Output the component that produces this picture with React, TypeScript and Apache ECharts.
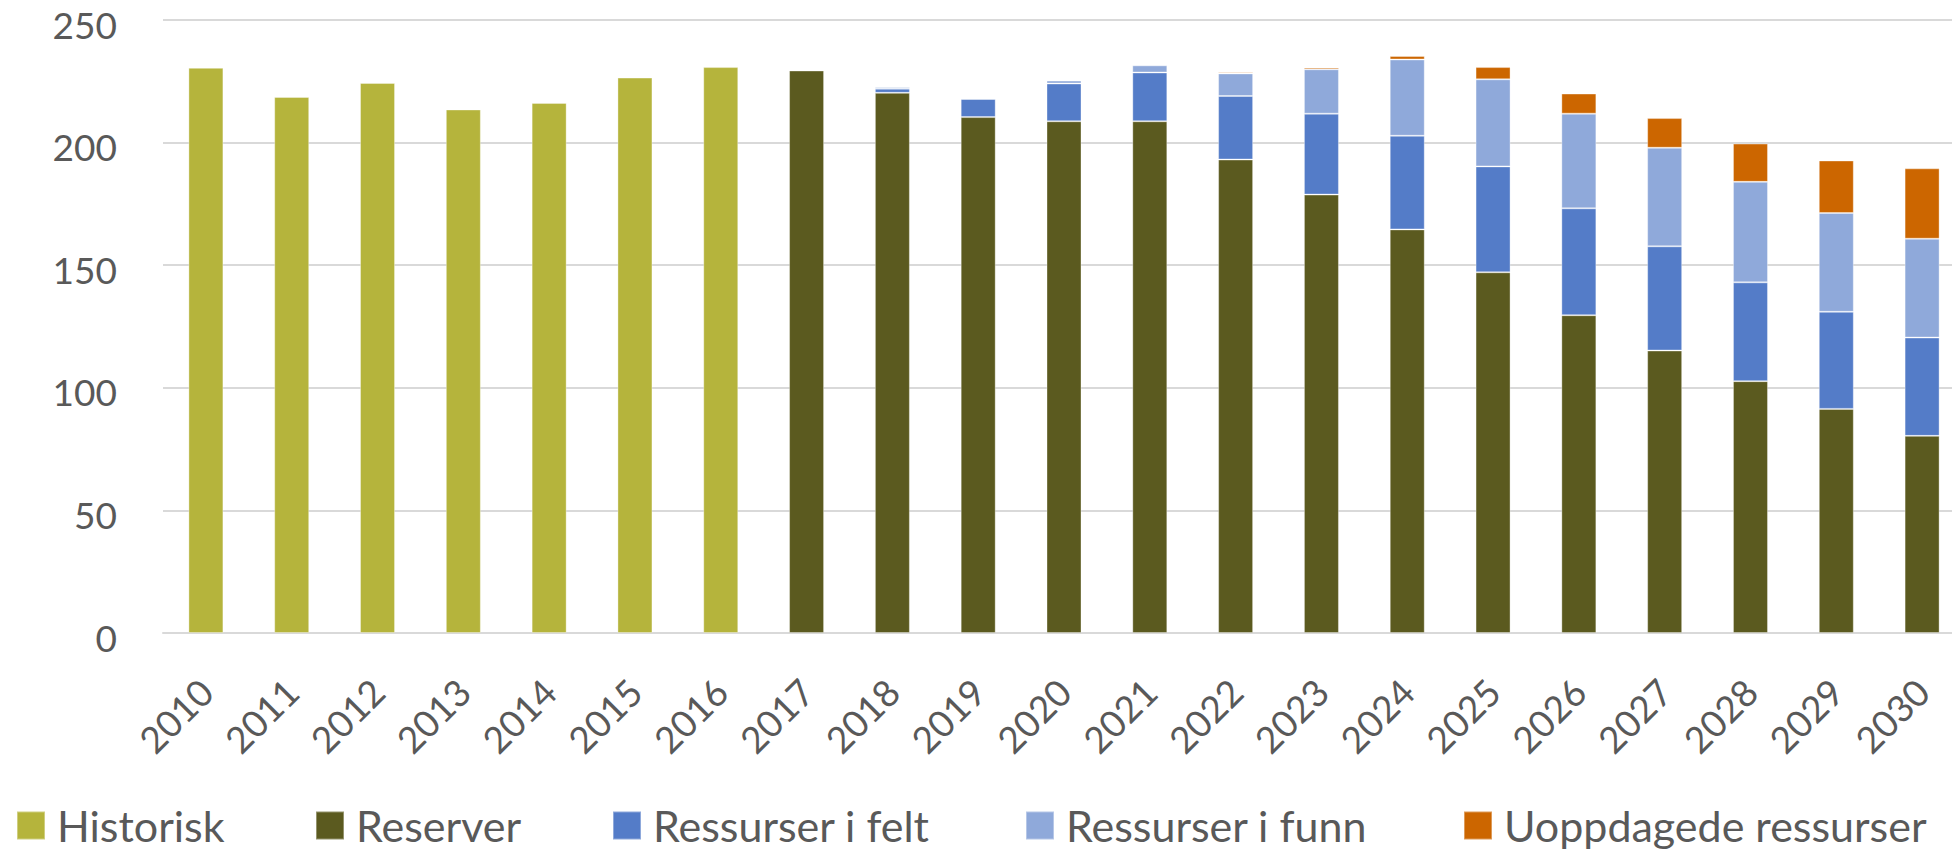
import React, { useEffect, useRef } from "react";
import * as echarts from "echarts";

const years = ["2010","2011","2012","2013","2014","2015","2016","2017","2018","2019","2020","2021","2022","2023","2024","2025","2026","2027","2028","2029","2030"];
const yTicks = [0, 50, 100, 150, 200, 250];
const historisk = [230.5, 218.6, 224.3, 213.5, 216.2, 226.5, 230.8, null, null, null, null, null, null, null, null, null, null, null, null, null, null];
const reserver = [null, null, null, null, null, null, null, 229.4, 220.3, 210.4, 208.7, 208.7, 193.1, 178.8, 164.6, 147.1, 129.6, 115.2, 102.7, 91.4, 80.4];
const ressurserFelt = [null, null, null, null, null, null, null, 0, 1.7, 7.4, 15.4, 19.9, 25.9, 33.0, 38.2, 43.2, 43.6, 42.5, 40.3, 39.6, 40.1];
const ressurserFunn = [null, null, null, null, null, null, null, 0, 0.7, 0.2, 1.2, 2.9, 9.2, 18.1, 31.1, 35.5, 38.6, 40.2, 41.0, 40.3, 40.3];
const uoppdagede = [null, null, null, null, null, null, null, 0, 0, 0, 0, 0.3, 0.5, 0.7, 1.4, 5.0, 8.2, 12.1, 15.6, 21.4, 28.7];

const seriesNames = ["Historisk", "Reserver", "Ressurser i felt", "Ressurser i funn", "Uoppdagede ressurser"];
const seriesColors = ["#B5B43C", "#5B5A1F", "#547CC8", "#8FA9DA", "#CC6600"];
const seriesData = [historisk, reserver, ressurserFelt, ressurserFunn, uoppdagede];
const legendLefts = [16, 315, 612, 1025, 1463];

const FONT = "Lato, 'Noto Sans', sans-serif";
const TEXT = "#595959";

export default function App() {
  const ref = useRef<HTMLDivElement>(null);
  useEffect(() => {
    if (!ref.current) return;
    const chart = echarts.init(ref.current, null, { renderer: "svg" });
    chart.setOption({
      animation: false,
      backgroundColor: "#ffffff",
      textStyle: { fontFamily: FONT, color: TEXT },
      grid: { left: 163, right: -13, top: 20, bottom: 220, containLabel: false, outerBoundsMode: "none" },
      legend: seriesNames.map((n, i) => ({
        data: [n],
        left: legendLefts[i],
        top: 804,
        padding: 0,
        itemWidth: 28,
        itemHeight: 28,
        icon: "rect",
        selectedMode: false,
        textStyle: { fontSize: 43, color: TEXT, fontFamily: FONT, lineHeight: 43, padding: [0, 0, 0, 7] },
      })),
      xAxis: {
        type: "category",
        data: years,
        axisLine: { show: true, lineStyle: { color: "#D9D9D9", width: 2 } },
        axisTick: { show: false },
        axisLabel: { rotate: 45, interval: 0, fontSize: 37, lineHeight: 30, color: TEXT, fontFamily: FONT, margin: 52 },
      },
      yAxis: {
        type: "value",
        min: yTicks[0],
        max: yTicks[yTicks.length - 1],
        interval: 50,
        axisLine: { show: false },
        axisTick: { show: false },
        axisLabel: {
          color: TEXT,
          fontFamily: FONT,
          margin: 46,
          formatter: (v: number) => "{t|" + v + "}",
          rich: { t: { fontSize: 37, lineHeight: 37, color: TEXT, fontFamily: FONT, padding: [8, 0, 0, 0] } },
        },
        splitLine: { lineStyle: { color: "#D9D9D9", width: 2 } },
      },
      series: seriesNames.map((n, i) => ({
        name: n,
        type: "bar",
        stack: "total",
        barWidth: 35,
        data: seriesData[i],
        itemStyle: { color: seriesColors[i], borderColor: "rgba(255,255,255,0.35)", borderWidth: 1 },
      })),
    });
    return () => chart.dispose();
  }, []);
  return <div ref={ref} style={{ position: "fixed", left: 0, top: 0, width: 1952, height: 853 }} />;
}
